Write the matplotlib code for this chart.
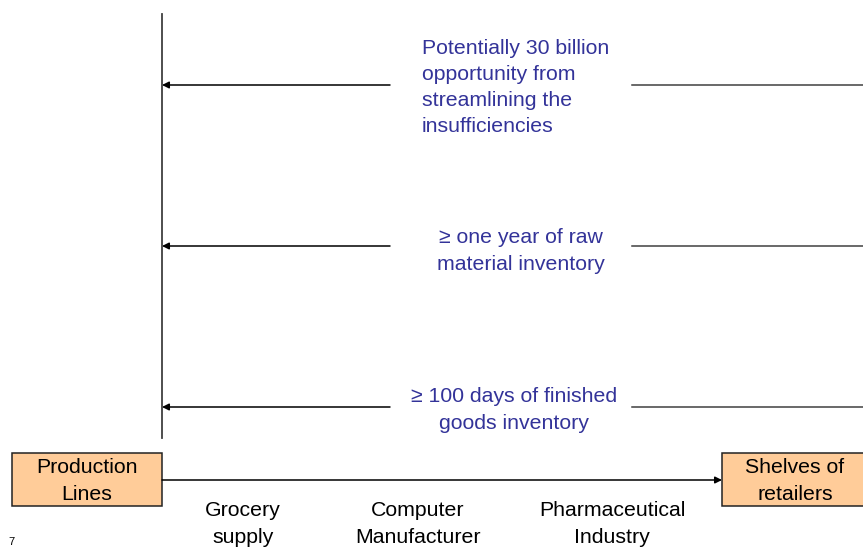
import matplotlib
matplotlib.use("Agg")
import matplotlib.pyplot as plt
from matplotlib.patches import Rectangle

plt.rcParams['font.family'] = ['Liberation Sans', 'DejaVu Sans']

# ---- content ----
notes = [
    "Potentially 30 billion\nopportunity from\nstreamlining the\ninsufficiencies",
    "\u2265 one year of raw\nmaterial inventory",
    "\u2265 100 days of finished\ngoods inventory",
]
industries = ["Grocery\nsupply", "Computer\nManufacturer", "Pharmaceutical\nIndustry"]
left_box = "Production\nLines"
right_box = "Shelves of\nretailers"
page_no = "7"

# ---- layout (pixel coordinates) ----
W, H = 863, 549
fig = plt.figure(figsize=(W / 100, H / 100), dpi=100)
ax = fig.add_axes([0, 0, 1, 1])
ax.set_xlim(0, W)
ax.set_ylim(H, 0)
ax.axis('off')

line_col = '#404040'
blue = '#333399'
fs = 15.3
ls = 1.48

# vertical line
ax.plot([162, 162], [14, 438], color=line_col, lw=1.3)

note_rows_y = [85, 246, 407]
note_text_y = [87.5, 251, 410]
note_x = [422, 521, 514]
note_ha = ['left', 'center', 'center']
for y, ty, tx, ha, txt in zip(note_rows_y, note_text_y, note_x, note_ha, notes):
    ax.plot([632, W], [y, y], color=line_col, lw=1.1)
    ax.annotate('', xy=(162, y), xytext=(390, y),
                arrowprops=dict(arrowstyle='-|>', color='black', lw=1.1,
                                mutation_scale=10, shrinkA=0, shrinkB=0))
    ax.text(tx, ty, txt, color=blue, fontsize=fs, ha=ha, va='center',
            multialignment=ha, linespacing=ls)

# boxes
box_fc = '#FFCC99'
ax.add_patch(Rectangle((12, 453), 150, 53, facecolor=box_fc, edgecolor='#222222', lw=1.1))
ax.add_patch(Rectangle((722, 453), 150, 53, facecolor=box_fc, edgecolor='#222222', lw=1.1))
ax.text(87, 481, left_box, fontsize=fs, ha='center', va='center', linespacing=ls)
ax.text(795, 481, right_box, fontsize=fs, ha='center', va='center', linespacing=ls)

# flow arrow
ax.annotate('', xy=(722, 480), xytext=(162, 480),
            arrowprops=dict(arrowstyle='-|>', color='black', lw=1.1,
                            mutation_scale=10, shrinkA=0, shrinkB=0))

ind_x = [243, 418, 612]
for x, txt in zip(ind_x, industries):
    ax.text(x, 524, txt, fontsize=fs, ha='center', va='center', linespacing=ls)

ax.text(8, 547, page_no, fontsize=8, ha='left', va='bottom')

fig.savefig('out.png', dpi=100)
